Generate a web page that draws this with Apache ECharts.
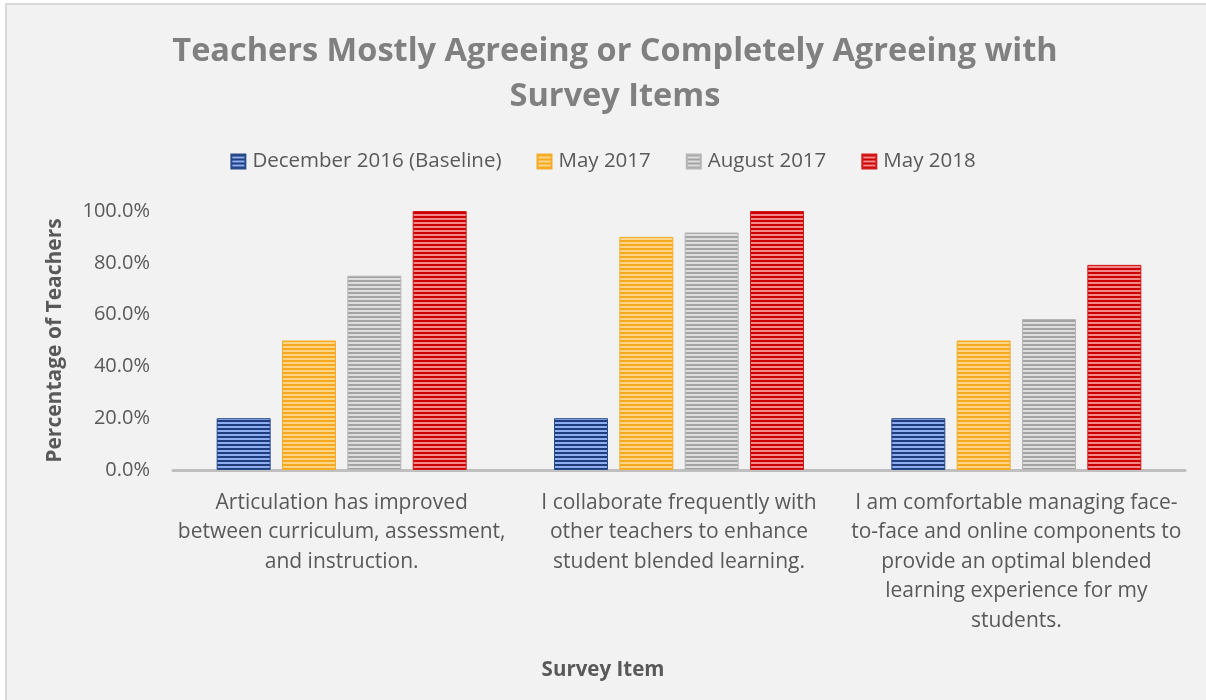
<!DOCTYPE html>
<html>
<head>
<meta charset="utf-8">
<script src="https://cdn.jsdelivr.net/npm/echarts@6/dist/echarts.min.js"></script>
<style>
  html, body { margin: 0; padding: 0; background: #fff; }
  #main { width: 1206px; height: 700px; }
</style>
</head>
<body>
<div id="main"></div>
<script>
// survey items (x axis), wrapped like the original
var categories = [
  'Articulation has improved\nbetween curriculum, assessment,\nand instruction.',
  'I collaborate frequently with\nother teachers to enhance\nstudent blended learning.',
  'I am comfortable managing face-\nto-face and online components to\nprovide an optimal blended\nlearning experience for my\nstudents.'
];
var seriesNames = ['December 2016 (Baseline)', 'May 2017', 'August 2017', 'May 2018'];
var dec2016 = [20.0, 20.0, 20.0];
var may2017 = [50.0, 90.0, 50.0];
var aug2017 = [75.0, 91.7, 58.3];
var may2018 = [100.0, 100.0, 79.2];
var yTicks = [0, 20, 40, 60, 80, 100];

var FONT = 'Open Sans';

// horizontal stripe fill
function stripes(dark, light) {
  var c = document.createElement('canvas');
  c.width = 4; c.height = 4;
  var ctx = c.getContext('2d');
  ctx.fillStyle = light;
  ctx.fillRect(0, 0, 4, 4);
  ctx.fillStyle = dark;
  ctx.fillRect(0, 0, 4, 2);
  return { image: c, repeat: 'repeat' };
}

var fills = [
  { fill: stripes('#1f3c7c', '#8eaef0'), border: '#2a4a8a' },
  { fill: stripes('#f5a91e', '#fcd589'), border: '#f5ac2a' },
  { fill: stripes('#a3a3a3', '#dedede'), border: '#b5b5b5' },
  { fill: stripes('#cc0000', '#f08a8a'), border: '#d31a1a' }
];
var values = [dec2016, may2017, aug2017, may2018];

var chart = echarts.init(document.getElementById('main'));

var series = seriesNames.map(function (name, i) {
  return {
    name: name,
    type: 'bar',
    data: values[i],
    barWidth: 54,
    barGap: '21%',
    itemStyle: {
      color: fills[i].fill,
      borderColor: fills[i].border,
      borderWidth: 1
    }
  };
});

var option = {
  backgroundColor: '#ffffff',
  animation: false,
  graphic: [{
    type: 'rect',
    z: -10,
    silent: true,
    shape: { x: 6, y: 4, width: 1220, height: 720 },
    style: { fill: '#f2f2f2', stroke: '#d9d9d9', lineWidth: 2 }
  }],
  title: {
    text: 'Teachers Mostly Agreeing or Completely Agreeing with\nSurvey Items',
    left: 610,
    textAlign: 'center',
    top: 24,
    textStyle: {
      fontFamily: FONT,
      fontWeight: 'bold',
      fontSize: 32.5,
      lineHeight: 45,
      color: '#808080'
    }
  },
  legend: {
    top: 146,
    left: 'center',
    icon: 'rect',
    itemWidth: 14,
    itemHeight: 14,
    itemGap: 35,
    textStyle: {
      fontFamily: FONT,
      fontSize: 20.5,
      color: '#595959',
      padding: [0, 0, 0, 2]
    },
    data: seriesNames
  },
  grid: {
    left: 173,
    right: 21,
    top: 211,
    bottom: 230,
    containLabel: false
  },
  xAxis: {
    type: 'category',
    data: categories,
    name: 'Survey Item',
    nameLocation: 'middle',
    nameGap: 190,
    nameTextStyle: {
      fontFamily: FONT,
      fontWeight: 'bold',
      fontSize: 20.5,
      color: '#595959',
      padding: [0, 152, 0, 0]
    },
    axisLine: { lineStyle: { color: '#bfbfbf', width: 3 } },
    axisTick: { show: false },
    axisLabel: {
      interval: 0,
      margin: 18,
      fontFamily: FONT,
      fontSize: 21,
      lineHeight: 29.5,
      color: '#595959'
    }
  },
  yAxis: {
    type: 'value',
    min: yTicks[0],
    max: yTicks[yTicks.length - 1],
    interval: 20,
    name: 'Percentage of Teachers',
    nameLocation: 'middle',
    nameGap: 107,
    nameTextStyle: {
      fontFamily: FONT,
      fontWeight: 'bold',
      fontSize: 21,
      color: '#595959'
    },
    axisLine: { show: false },
    axisTick: { show: false },
    splitLine: { show: false },
    axisLabel: {
      margin: 23,
      fontFamily: FONT,
      fontSize: 20,
      color: '#595959',
      formatter: function (v) { return v.toFixed(1) + '%'; }
    }
  },
  series: series
};

chart.setOption(option);
</script>
</body>
</html>
